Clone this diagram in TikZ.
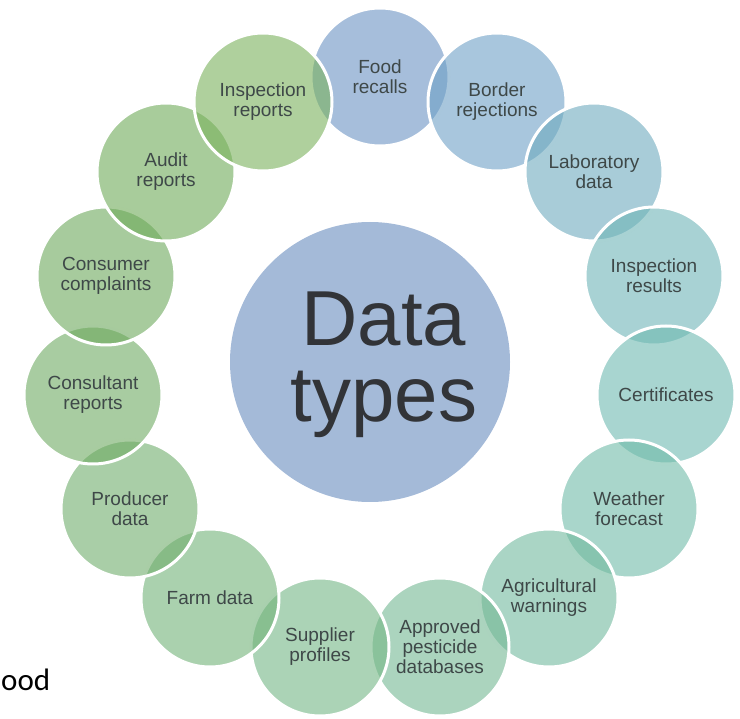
\documentclass[tikz,border=0pt]{standalone}
\usepackage{fontspec}
\setmainfont{Liberation Sans}
\newfontfamily\oodfont{Carlito}
\definecolor{hubfill}{RGB}{164,186,216}
\definecolor{labtxt}{RGB}{62,72,72}
\definecolor{hubtxt}{RGB}{50,52,56}
\definecolor{c1}{RGB}{107,147,195}
\definecolor{c2}{RGB}{110,160,198}
\definecolor{c3}{RGB}{110,170,190}
\definecolor{c4}{RGB}{110,180,183}
\definecolor{c5}{RGB}{110,185,177}
\definecolor{c6}{RGB}{112,187,168}
\definecolor{c7}{RGB}{113,185,158}
\definecolor{c8}{RGB}{115,183,147}
\definecolor{c9}{RGB}{115,182,133}
\definecolor{c10}{RGB}{113,178,120}
\definecolor{c11}{RGB}{112,173,108}
\definecolor{c12}{RGB}{110,170,98}
\definecolor{c13}{RGB}{108,168,92}
\definecolor{c14}{RGB}{110,170,88}
\definecolor{c15}{RGB}{122,177,92}
\tikzset{
  bub/.style={circle, minimum size=138pt, inner sep=0pt, draw=white, line width=3pt,
    fill opacity=0.6, text opacity=1, text=labtxt, align=center,
    font=\fontsize{19}{20}\selectfont},
  hubstyle/.style={circle, minimum size=280pt, inner sep=0pt, fill=hubfill},
}
\begin{document}
\begin{tikzpicture}[x=1pt,y=-1pt]
\useasboundingbox (0,0) rectangle (740,719);
\node[hubstyle] (hub) at (370,362) {};
\node[text=hubtxt, align=center, inner sep=0pt, font=\fontsize{78}{76}\selectfont] (hubtext) at (384,365) {Data\\types};
% ring, drawn clockwise from the top; each circle lies over the previous one
\node[bub, fill=c1]  (food)  at (380,77)    {Food\\recalls};
\node[bub, fill=c2]  (bord)  at (497,102)   {Border\\rejections};
\node[bub, fill=c3]  (lab)   at (594,172)   {Laboratory\\data};
\node[bub, fill=c4]  (insr)  at (654,276)   {Inspection\\results};
\node[bub, fill=c5]  (cert)  at (666,395)   {Certificates};
\node[bub, fill=c6]  (weat)  at (629,509)   {Weather\\forecast};
\node[bub, fill=c7]  (agri)  at (549,598)   {Agricultural\\warnings};
\node[bub, fill=c8]  (appr)  at (440,647)   {Approved\\pesticide\\databases};
\node[bub, fill=c9]  (supp)  at (320,647)   {Supplier\\profiles};
\node[bub, fill=c10] (farm)  at (210,598)   {Farm data};
\node[bub, fill=c11] (prod)  at (130,509)   {Producer\\data};
\node[bub, fill=c12] (cons)  at (93,395)    {Consultant\\reports};
\node[bub, fill=c13] (comp)  at (106,276)   {Consumer\\complaints};
\node[bub, fill=c14] (audit) at (166,172)   {Audit\\reports};
\node[bub, fill=c15] (insp)  at (263,102)   {Inspection\\reports};
\node[anchor=base west, inner sep=0pt, font=\oodfont\fontsize{31}{31}\selectfont] (ood) at (1,690) {ood};
\end{tikzpicture}
\end{document}
